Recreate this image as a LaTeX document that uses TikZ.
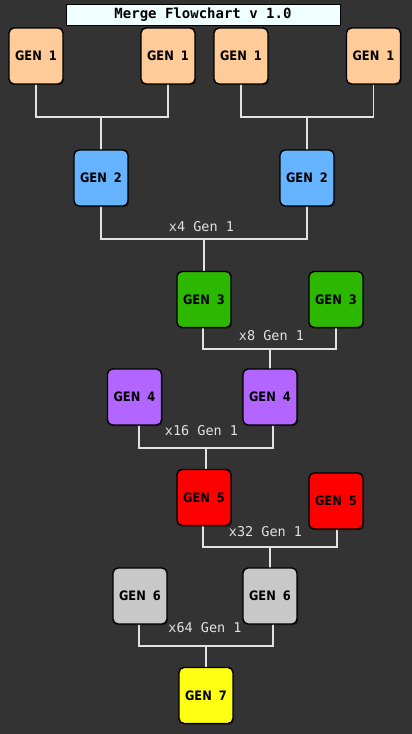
\documentclass[tikz,border=0pt]{standalone}
\usepackage{fontspec}
\usetikzlibrary{shadows}
\newfontfamily\genfont{DejaVu Sans}[FakeStretch=0.88]
\newfontfamily\monofont{DejaVu Sans Mono}
\definecolor{bg}{HTML}{333333}
\definecolor{wire}{HTML}{E2E2E2}
\definecolor{cA}{HTML}{FFCC99}
\definecolor{cB}{HTML}{66B3FF}
\definecolor{cC}{HTML}{2DB800}
\definecolor{cD}{HTML}{B266FF}
\definecolor{cE}{HTML}{FF0000}
\definecolor{cF}{HTML}{C8C8C8}
\definecolor{cG}{HTML}{FFFF14}
\definecolor{ttl}{HTML}{F0FFFF}
\tikzset{
  genbox/.style={draw=black, line width=1.4pt, rounded corners=5pt,
    minimum width=54pt, minimum height=56pt, inner sep=0pt,
    font={\genfont\bfseries\fontsize{13}{15}\selectfont\spaceskip=0.55em\relax},
    drop shadow={shadow xshift=1.2pt, shadow yshift=-1.2pt, fill=black, opacity=0.45}},
  wireline/.style={draw=wire, line width=1.8pt},
  countlabel/.style={text=wire, inner sep=0pt, font={\monofont\fontsize{13.5}{15}\selectfont}},
  titlebox/.style={draw=black, line width=0.6pt, fill=ttl, minimum width=274pt, minimum height=21pt,
    inner sep=0pt, font={\monofont\bfseries\fontsize{14}{16}\selectfont}}
}
\begin{document}
\begin{tikzpicture}[x=1pt,y=-1pt]
\fill[bg] (0,0) rectangle (412,734);
\useasboundingbox (0,0) rectangle (412,734);
\node[titlebox] (title) at (203,14.5) {Merge Flowchart v 1.0};
% junctions
\coordinate (j1) at (101,117);
\coordinate (j2) at (307,117);
\coordinate (j3) at (204,239);
\coordinate (j4) at (270,349);
\coordinate (j5) at (206,448);
\coordinate (j6) at (270,547);
\coordinate (j7) at (206,646);
% wires first
\coordinate (g1aS) at (36,84);
\coordinate (g1bS) at (168,84);
\coordinate (g1cS) at (241,84);
\coordinate (g1dS) at (373.5,84);
\draw[wireline] (g1aS) |- (j1) -| (g1bS);
\draw[wireline] (g1cS) |- (j2) -| (g1dS);
\draw[wireline] (j1) -- (101,150);
\draw[wireline] (j2) -- (307,150);
\draw[wireline] (101,206) |- (j3) -| (307,206);
\draw[wireline] (j3) -- (204,272);
\draw[wireline] (203,327) |- (j4) -| (336,327);
\draw[wireline] (j4) -- (270,369);
\draw[wireline] (139,425) |- (j5) -| (273,425);
\draw[wireline] (j5) -- (206,470);
\draw[wireline] (203,526) |- (j6) -| (337,529);
\draw[wireline] (j6) -- (270,568);
\draw[wireline] (139,624) |- (j7) -| (273,624);
\draw[wireline] (j7) -- (206,668);
% boxes
\node[genbox, fill=cA] (g1a) at (36,56) {GEN 1};
\node[genbox, fill=cA] (g1b) at (168,56) {GEN 1};
\node[genbox, fill=cA] (g1c) at (241,56) {GEN 1};
\node[genbox, fill=cA] (g1d) at (373.5,56) {GEN 1};
\node[genbox, fill=cB] (g2a) at (101,178) {GEN 2};
\node[genbox, fill=cB] (g2b) at (307,178) {GEN 2};
\node[genbox, fill=cC] (g3a) at (204,299.5) {GEN 3};
\node[genbox, fill=cC] (g3b) at (336,299.5) {GEN 3};
\node[genbox, fill=cD] (g4a) at (134.5,397) {GEN 4};
\node[genbox, fill=cD] (g4b) at (270,397) {GEN 4};
\node[genbox, fill=cE] (g5a) at (204,497.5) {GEN 5};
\node[genbox, fill=cE] (g5b) at (336,501) {GEN 5};
\node[genbox, fill=cF] (g6a) at (140,596) {GEN 6};
\node[genbox, fill=cF] (g6b) at (270,596) {GEN 6};
\node[genbox, fill=cG] (g7) at (206,695.5) {GEN 7};
% labels
\node[countlabel] (l3) at (201.5,227) {x4 Gen 1};
\node[countlabel] (l4) at (271.5,336) {x8 Gen 1};
\node[countlabel] (l5) at (201.5,431) {x16 Gen 1};
\node[countlabel] (l6) at (265.5,532) {x32 Gen 1};
\node[countlabel] (l7) at (205,628) {x64 Gen 1};
\end{tikzpicture}
\end{document}
